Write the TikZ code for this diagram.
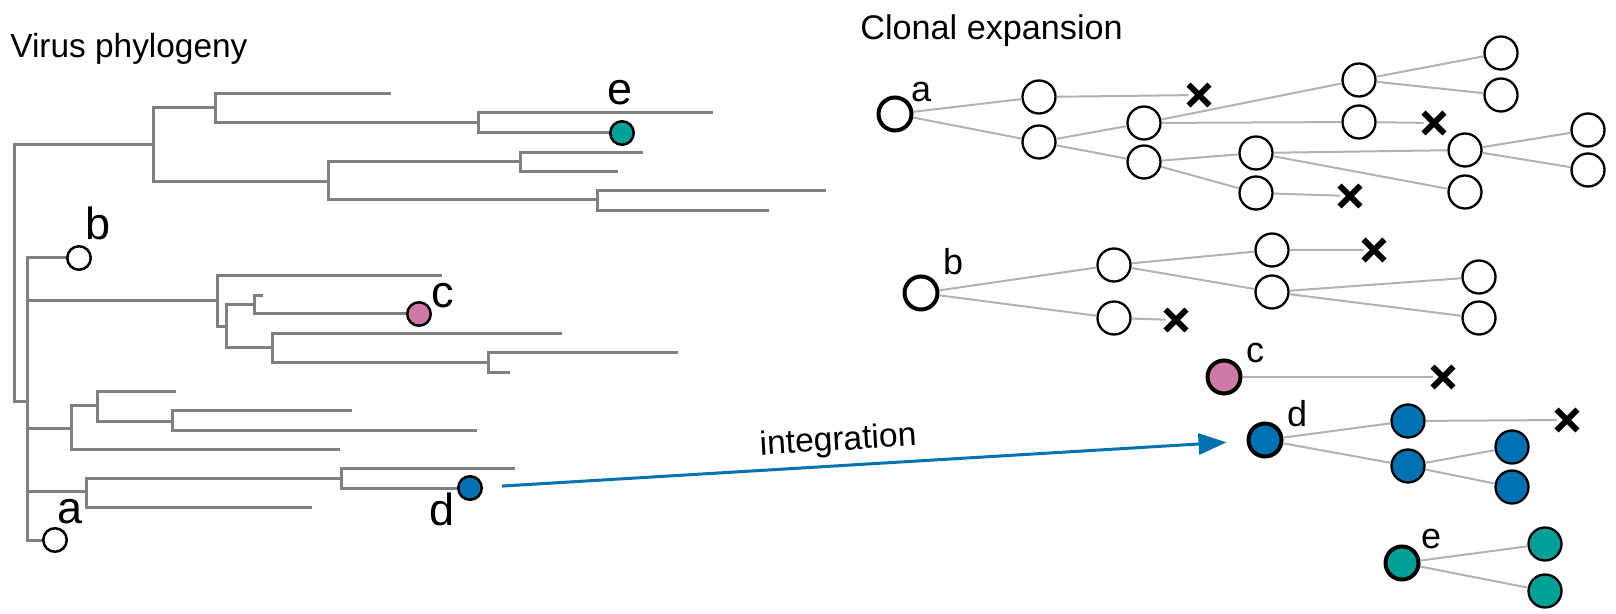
\documentclass[tikz,border=0pt]{standalone}
\usepackage{fontspec}
\setmainfont{Liberation Sans}
\usetikzlibrary{arrows.meta,shapes.misc}
\definecolor{treegray}{RGB}{128,128,128}
\definecolor{linkgray}{RGB}{178,178,178}
\definecolor{dblue}{HTML}{0072B2}
\definecolor{cpink}{HTML}{CC79A7}
\definecolor{eteal}{RGB}{0,160,150}
\begin{document}
\begin{tikzpicture}[x=0.5pt,y=-0.5pt,
  branch/.style={draw=treegray, line width=1.5pt},
  tipdot/.style={circle, draw=black, fill=white, line width=1.25pt, minimum size=11.75pt, inner sep=0pt},
  cell/.style={circle, draw=black, fill=white, line width=1.15pt, minimum size=16.5pt, inner sep=0pt},
  founder/.style={cell, line width=2pt},
  link/.style={draw=linkgray, line width=1pt},
  death/.style={cross out, draw=black, line width=2.9pt, minimum size=7.5pt, inner sep=0pt},
  biglbl/.style={font=\fontsize{22.5pt}{26pt}\selectfont, inner sep=0pt, anchor=base},
  smalllbl/.style={font=\fontsize{18pt}{21pt}\selectfont, inner sep=0pt, anchor=base},
  titletext/.style={font=\fontsize{16.7pt}{20pt}\selectfont, inner sep=0pt, anchor=base west},
  integ/.style={draw=dblue, line width=1.5pt, -{Triangle[length=14pt,width=10.5pt]}}
]
\useasboundingbox (0,0) rectangle (1616,614);

% titles
\node[titletext] (t1) at (10,58) {Virus phylogeny};
\node[titletext, font=\fontsize{17.1pt}{20pt}\selectfont] (t2) at (860,40) {Clonal expansion};

% ---------- left tree ----------
\coordinate (R0) at (14,270);
\coordinate (A) at (153,145);
\coordinate (A1) at (215,108);
\coordinate (A2) at (328,182);
\coordinate (A11) at (391,94);
\coordinate (A12) at (478,123);
\coordinate (A121) at (713,113);
\coordinate (A21) at (520,162);
\coordinate (A211) at (643,153);
\coordinate (A212) at (618,172);
\coordinate (A22) at (597,200);
\coordinate (A221) at (826,191);
\coordinate (A222) at (769,211);
\coordinate (B) at (27,402);
\coordinate (C) at (217,301);
\coordinate (C1) at (442,276);
\coordinate (C2) at (226,327);
\coordinate (C21) at (254,305);
\coordinate (C211) at (263,296);
\coordinate (C22) at (272,348);
\coordinate (C221) at (562,334);
\coordinate (C222) at (488,363);
\coordinate (C2221) at (678,353);
\coordinate (C2222) at (510,373);
\coordinate (D) at (71,428);
\coordinate (D1) at (97,406);
\coordinate (D2) at (340,449);
\coordinate (D11) at (176,392);
\coordinate (D12) at (172,421);
\coordinate (D121) at (352,411);
\coordinate (D122) at (477,430);
\coordinate (E) at (86,491);
\coordinate (E1) at (341,478);
\coordinate (E2) at (312,507);
\coordinate (E11) at (515,468);

\node[tipdot] (adot) at (55,540) {};
\node[tipdot] (bdot) at (79,258) {};
\node[tipdot, fill=cpink] (cdot) at (419,314) {};
\node[tipdot, fill=dblue] (ddot) at (470,488) {};
\node[tipdot, fill=eteal] (edot) at (622,133) {};

\draw[branch] (R0) |- (A) (R0) |- (B)
  (A) |- (A1) (A) |- (A2)
  (A1) |- (A11) (A1) |- (A12)
  (A12) |- (A121) (A12) |- (edot)
  (A2) |- (A21) (A2) |- (A22)
  (A21) |- (A211) (A21) |- (A212)
  (A22) |- (A221) (A22) |- (A222)
  (B) |- (bdot) (B) |- (C) (B) |- (D) (B) |- (E) (B) |- (adot)
  (C) |- (C1) (C) |- (C2)
  (C2) |- (C21) (C2) |- (C22)
  (C21) |- (C211) (C21) |- (cdot)
  (C22) |- (C221) (C22) |- (C222)
  (C222) |- (C2221) (C222) |- (C2222)
  (D) |- (D1) (D) |- (D2)
  (D1) |- (D11) (D1) |- (D12)
  (D12) |- (D121) (D12) |- (D122)
  (E) |- (E1) (E) |- (E2)
  (E1) |- (E11) (E1) |- (ddot);

\node[biglbl] (la) at (70,523) {a};
\node[biglbl] (lb) at (98,240) {b};
\node[biglbl] (lc) at (443,308) {c};
\node[biglbl] (ld) at (442,525) {d};
\node[biglbl] (le) at (620,105) {e};

% ---------- clone a ----------
\node[founder] (ra0) at (895,114) {};
\node[cell] (ra1) at (1039,97) {};
\node[cell] (ra2) at (1039,142) {};
\node[death] (xa1) at (1199,95) {};
\node[cell] (ra3) at (1144,123) {};
\node[cell] (ra4) at (1144,162) {};
\node[cell] (ra5) at (1359,80) {};
\node[cell] (ra6) at (1359,122) {};
\node[cell] (ra7) at (1501,53) {};
\node[cell] (ra8) at (1501,95) {};
\node[death] (xa2) at (1434,123) {};
\node[cell] (ra9) at (1256,153) {};
\node[cell] (ra10) at (1256,193) {};
\node[cell] (ra11) at (1465,150) {};
\node[cell] (ra12) at (1465,192) {};
\node[cell] (ra13) at (1588,130) {};
\node[cell] (ra14) at (1588,170) {};
\node[death] (xa3) at (1350,196) {};
\draw[link] (ra0) -- (ra1) (ra0) -- (ra2) (ra1) -- (xa1)
  (ra2) -- (ra3) (ra2) -- (ra4) (ra3) -- (ra5) (ra3) -- (ra6)
  (ra5) -- (ra7) (ra5) -- (ra8) (ra6) -- (xa2)
  (ra4) -- (ra9) (ra4) -- (ra10) (ra9) -- (ra11) (ra9) -- (ra12)
  (ra11) -- (ra13) (ra11) -- (ra14) (ra10) -- (xa3);
\node[smalllbl] (lra) at (921,102) {a};

% ---------- clone b ----------
\node[founder] (rb0) at (921,293) {};
\node[cell] (rb1) at (1114,265) {};
\node[cell] (rb2) at (1114,318) {};
\node[cell] (rb3) at (1272,250) {};
\node[cell] (rb4) at (1272,292) {};
\node[death] (xb1) at (1374,250) {};
\node[cell] (rb5) at (1479,277) {};
\node[cell] (rb6) at (1479,318) {};
\node[death] (xb2) at (1176,320) {};
\draw[link] (rb0) -- (rb1) (rb0) -- (rb2) (rb1) -- (rb3) (rb1) -- (rb4)
  (rb3) -- (xb1) (rb4) -- (rb5) (rb4) -- (rb6) (rb2) -- (xb2);
\node[smalllbl] (lrb) at (953,275) {b};

% ---------- clone c ----------
\node[founder, fill=cpink] (rc0) at (1224,377) {};
\node[death] (xc1) at (1443,377) {};
\draw[link] (rc0) -- (xc1);
\node[smalllbl] (lrc) at (1255,363) {c};

% ---------- clone d ----------
\node[founder, fill=dblue] (rd0) at (1265,440) {};
\node[cell, fill=dblue] (rd1) at (1408,421) {};
\node[cell, fill=dblue] (rd2) at (1408,466) {};
\node[death] (xd1) at (1567,420) {};
\node[cell, fill=dblue] (rd3) at (1512,447) {};
\node[cell, fill=dblue] (rd4) at (1512,487) {};
\draw[link] (rd0) -- (rd1) (rd0) -- (rd2) (rd1) -- (xd1) (rd2) -- (rd3) (rd2) -- (rd4);
\node[smalllbl] (lrd) at (1297,426) {d};

% ---------- clone e ----------
\node[founder, fill=eteal] (re0) at (1402,563) {};
\node[cell, fill=eteal] (re1) at (1545,544) {};
\node[cell, fill=eteal] (re2) at (1545,591) {};
\draw[link] (re0) -- (re1) (re0) -- (re2);
\node[smalllbl] (lre) at (1431,548) {e};

% ---------- integration arrow ----------
\draw[integ, shorten <=9.5pt, shorten >=10pt] (ddot) -- (rd0)
  node[sloped, pos=0.467, yshift=12pt, font=\fontsize{16.8pt}{20pt}\selectfont, text=black] (lint) {integration};
\end{tikzpicture}
\end{document}
